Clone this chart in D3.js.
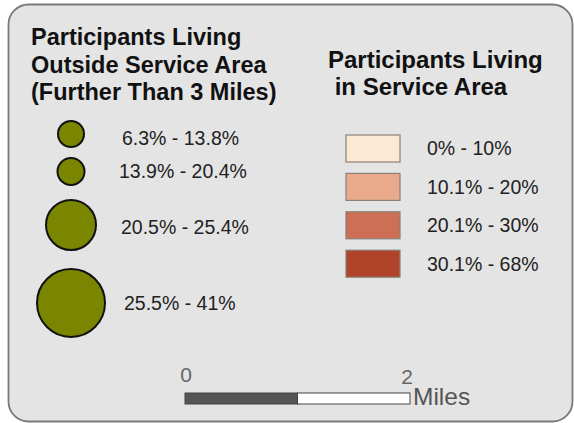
<!DOCTYPE html>
<html>
<head>
<meta charset="utf-8">
<script src="https://cdn.jsdelivr.net/npm/d3@7"></script>
<style>
  body { margin: 0; background: #fff; }
  text { font-family: "Liberation Sans", Arial, sans-serif; }
</style>
</head>
<body>
<div id="legend"></div>
<script>
// circle classes (outside service area)
const outsideLabels = ["6.3% - 13.8%", "13.9% - 20.4%", "20.5% - 25.4%", "25.5% - 41%"];
// choropleth classes (in service area)
const insideLabels = ["0% - 10%", "10.1% - 20%", "20.1% - 30%", "30.1% - 68%"];
const insideColors = ["#fde8d6", "#e8aa8b", "#cd6f54", "#b0432a"];
// scale bar
const scaleTicks = [0, 2];
const scaleUnit = "Miles";

const width = 574, height = 423;

const svg = d3.select("#legend")
  .append("svg")
  .attr("width", width)
  .attr("height", height);

// panel
svg.append("rect")
  .attr("x", 8.5)
  .attr("y", 4.5)
  .attr("width", 564)
  .attr("height", 417)
  .attr("rx", 20)
  .attr("ry", 20)
  .style("fill", "#e4e4e4")
  .style("stroke", "#7a7a7a")
  .style("stroke-width", 1.8);

// left title
const leftTitle = ["Participants Living", "Outside Service Area", "(Further Than 3 Miles)"];
svg.append("g")
  .selectAll("text")
  .data(leftTitle)
  .enter()
  .append("text")
  .attr("x", 31)
  .attr("y", (d, i) => 45 + i * 27.5)
  .style("font-size", "23.5px")
  .style("font-weight", "bold")
  .style("fill", "#111")
  .text(d => d);

// right title
const rightTitle = ["Participants Living", " in Service Area"];
svg.append("g")
  .selectAll("text")
  .data(rightTitle)
  .enter()
  .append("text")
  .attr("x", 328)
  .attr("y", (d, i) => 68 + i * 27)
  .attr("xml:space", "preserve")
  .style("white-space", "pre")
  .style("font-size", "24px")
  .style("font-weight", "bold")
  .style("fill", "#111")
  .text(d => d);

// graduated circles
const radius = d3.scaleOrdinal()
  .domain(outsideLabels)
  .range([13, 13.5, 25, 34]);

const gap = 11;
let yTop = 121;
const circleData = outsideLabels.map(function(label) {
  const r = radius(label);
  const cy = yTop + r;
  yTop = cy + r + gap;
  return { label: label, r: r, cy: cy };
});
// leave a bit more room before the larger classes
circleData[2].cy += 4;
circleData[3].cy += 12;

const circles = svg.append("g")
  .selectAll(".cls")
  .data(circleData)
  .enter()
  .append("g")
  .attr("class", "cls");

circles.append("circle")
  .attr("cx", 71)
  .attr("cy", d => d.cy)
  .attr("r", d => d.r)
  .style("fill", "#7b8600")
  .style("stroke", "#111")
  .style("stroke-width", 2);

circles.append("text")
  .attr("x", (d, i) => [122, 119, 121, 124][i])
  .attr("y", (d, i) => d.cy + [4, 0, 2, 0][i])
  .attr("dy", ".35em")
  .style("font-size", "19.5px")
  .style("fill", "#222")
  .text(d => d.label);

// colour boxes
const yBox = d3.scaleBand()
  .domain(insideLabels)
  .range([135, 279])
  .paddingInner(0.25)
  .paddingOuter(0);

const color = d3.scaleOrdinal()
  .domain(insideLabels)
  .range(insideColors);

const boxes = svg.append("g")
  .selectAll(".box")
  .data(insideLabels)
  .enter()
  .append("g")
  .attr("class", "box");

boxes.append("rect")
  .attr("x", 346)
  .attr("y", d => yBox(d))
  .attr("width", 54)
  .attr("height", 27)
  .style("fill", d => color(d))
  .style("stroke", "#8a8078")
  .style("stroke-width", 1.2);

boxes.append("text")
  .attr("x", 427)
  .attr("y", d => yBox(d) + 13.5)
  .attr("dy", ".35em")
  .style("font-size", "19.5px")
  .style("fill", "#222")
  .text(d => d);

// scale bar
const xScale = d3.scaleLinear()
  .domain([0, 2])
  .range([185, 410]);

const bar = svg.append("g");
bar.append("rect")
  .attr("x", xScale(0))
  .attr("y", 393)
  .attr("width", xScale(1) - xScale(0))
  .attr("height", 11)
  .style("fill", "#555")
  .style("stroke", "#444")
  .style("stroke-width", 1);
bar.append("rect")
  .attr("x", xScale(1))
  .attr("y", 393)
  .attr("width", xScale(2) - xScale(1))
  .attr("height", 11)
  .style("fill", "#fff")
  .style("stroke", "#444")
  .style("stroke-width", 1);

bar.selectAll(".tick")
  .data(scaleTicks)
  .enter()
  .append("text")
  .attr("x", (d, i) => xScale(d) + [1, -3][i])
  .attr("y", (d, i) => [382, 384][i])
  .style("text-anchor", "middle")
  .style("font-size", "21px")
  .style("fill", "#666")
  .text(d => d);

bar.append("text")
  .attr("x", xScale(2) + 3)
  .attr("y", 405)
  .style("font-size", "24.5px")
  .style("fill", "#555")
  .text(scaleUnit);
</script>
</body>
</html>
